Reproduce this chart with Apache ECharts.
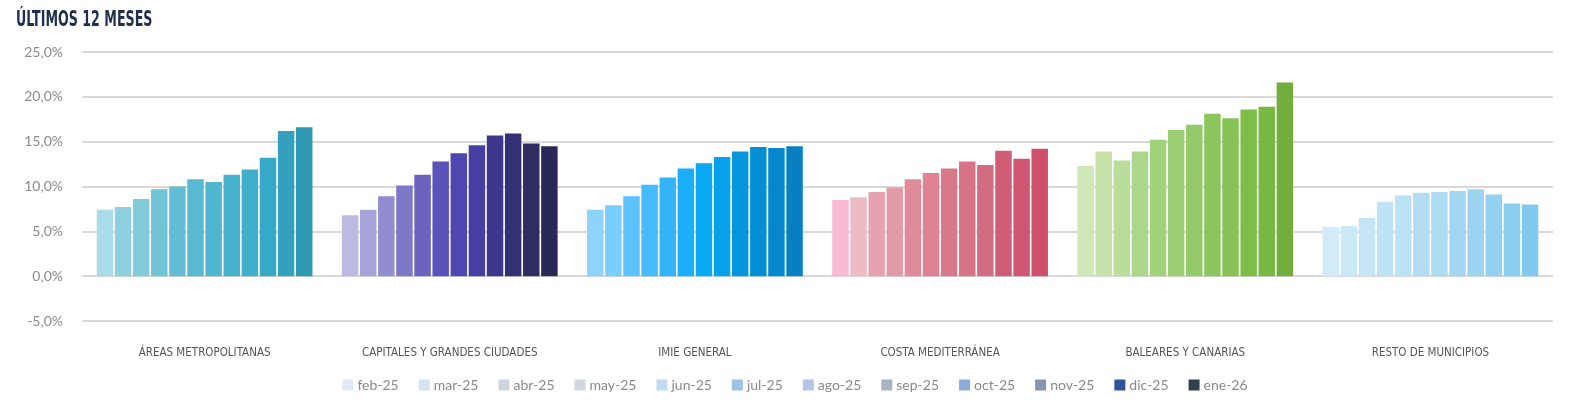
<!DOCTYPE html>
<html>
<head>
<meta charset="utf-8">
<script src="https://cdn.jsdelivr.net/npm/echarts@6/dist/echarts.min.js"></script>
<style>
  html, body { margin: 0; padding: 0; background: #fff; }
  #chart { width: 1590px; height: 412px; }
</style>
</head>
<body>
<div id="chart"></div>
<script>
// categorías y meses
var categories = ['ÁREAS METROPOLITANAS', 'CAPITALES Y GRANDES CIUDADES', 'IMIE GENERAL',
  'COSTA MEDITERRÁNEA', 'BALEARES Y CANARIAS', 'RESTO DE MUNICIPIOS'];
var months = ['feb-25', 'mar-25', 'abr-25', 'may-25', 'jun-25', 'jul-25',
  'ago-25', 'sep-25', 'oct-25', 'nov-25', 'dic-25', 'ene-26'];

// variación interanual (%) por categoría, feb-25 .. ene-26
var areasMetro = [7.4, 7.7, 8.6, 9.7, 10.0, 10.8, 10.5, 11.3, 11.9, 13.2, 16.2, 16.6];
var capitales = [6.8, 7.4, 8.9, 10.1, 11.3, 12.8, 13.7, 14.6, 15.7, 15.9, 14.8, 14.5];
var imieGeneral = [7.4, 7.9, 8.9, 10.2, 11.0, 12.0, 12.6, 13.3, 13.9, 14.4, 14.3, 14.5];
var costaMed = [8.5, 8.8, 9.4, 9.9, 10.8, 11.5, 12.0, 12.8, 12.4, 14.0, 13.1, 14.2];
var balearesCanarias = [12.3, 13.9, 12.9, 13.9, 15.2, 16.3, 16.9, 18.1, 17.6, 18.6, 18.9, 21.6];
var restoMunicipios = [5.5, 5.6, 6.5, 8.3, 9.0, 9.3, 9.4, 9.5, 9.7, 9.1, 8.1, 8.0];

var yTicks = [-5, 0, 5, 10, 15, 20, 25];

// colores
var legendColors = ['#dde9f5', '#d6e2f1', '#cfd5de', '#d3d7e0', '#c3dbf0', '#9dc3e6',
  '#b2c5e6', '#a9b3c4', '#8eaadb', '#8497b0', '#2f5597', '#333f50'];
var groupColors = [
  ['#a9dce8', '#8fd0de', '#83cadb', '#71c4d8', '#63bed5', '#59b9d2', '#4fb6cf', '#46b2cd', '#40afcc', '#36a8c8', '#33a0bf', '#2f99b1'],
  ['#bcb9e3', '#a6a2da', '#928dd1', '#7c77c7', '#6b63be', '#5b53b9', '#4e47af', '#453fa1', '#3d378c', '#333076', '#2e2c60', '#2a2856'],
  ['#8dd3fb', '#7acefd', '#5dc3fc', '#46bbfc', '#33b4fb', '#1baefc', '#0aa8f5', '#07a0ea', '#0596dd', '#048fd4', '#0487cb', '#0680c0'],
  ['#f9b8d3', '#ecbbc4', '#e6a2ae', '#e39aa7', '#e08b9b', '#de8294', '#d8788b', '#d77387', '#d46c81', '#d05c75', '#cf5570', '#cf506a'],
  ['#d0e8b8', '#c4e2a8', '#b9dd9b', '#acd68b', '#a3d27c', '#9ccf74', '#93ca69', '#8bc55d', '#86c255', '#7fbd49', '#7ab844', '#72ad3d'],
  ['#d2ebf8', '#cbe8f7', '#c5e5f6', '#bfe3f5', '#bce2f5', '#b2ddf3', '#acdbf2', '#a3d7f1', '#9cd4f0', '#94d0ef', '#8bcdef', '#82c9ee']
];

var groups = [areasMetro, capitales, imieGeneral, costaMed, balearesCanarias, restoMunicipios];

var condensed = '"DejaVu Sans Condensed", "Liberation Sans Narrow", sans-serif';

var series = months.map(function (m, i) {
  return {
    name: m,
    type: 'bar',
    barGap: '10%',
    barCategoryGap: '12%',
    itemStyle: { color: legendColors[i] },
    data: groups.map(function (g, j) {
      return { value: g[i], itemStyle: { color: groupColors[j][i] } };
    })
  };
});

var chart = echarts.init(document.getElementById('chart'));
chart.setOption({
  animation: false,
  // título estrecho (no hay fuente condensada, se escala en x)
  graphic: [{
    type: 'text',
    left: 16,
    top: 9,
    scaleX: 0.64,
    style: {
      text: 'ÚLTIMOS 12 MESES',
      fontFamily: condensed,
      fontSize: 22,
      fontWeight: 'bold',
      fill: '#1f2d4e'
    }
  }],
  legend: {
    bottom: 15,
    left: 'center',
    itemWidth: 11,
    itemHeight: 11,
    itemGap: 20,
    icon: 'rect',
    textStyle: { fontFamily: 'Lato, sans-serif', fontSize: 14, color: '#8a8a8a', padding: [0, 0, 0, -1] },
    data: months
  },
  grid: { left: 82, right: 37, top: 52, bottom: 91 },
  xAxis: {
    type: 'category',
    data: categories,
    axisLine: { show: false, onZero: false },
    axisTick: { show: false },
    axisLabel: {
      margin: 26,
      fontFamily: condensed,
      fontSize: 11.5,
      color: '#555'
    }
  },
  yAxis: {
    type: 'value',
    min: yTicks[0],
    max: yTicks[yTicks.length - 1],
    interval: 5,
    axisLabel: {
      margin: 19,
      fontFamily: 'Lato, sans-serif',
      fontSize: 14,
      color: '#8c8c8c',
      formatter: function (v) { return v.toFixed(1).replace('.', ',') + '%'; }
    },
    splitLine: { lineStyle: { color: '#d9d9d9', width: 2 } }
  },
  series: series
});
</script>
</body>
</html>
